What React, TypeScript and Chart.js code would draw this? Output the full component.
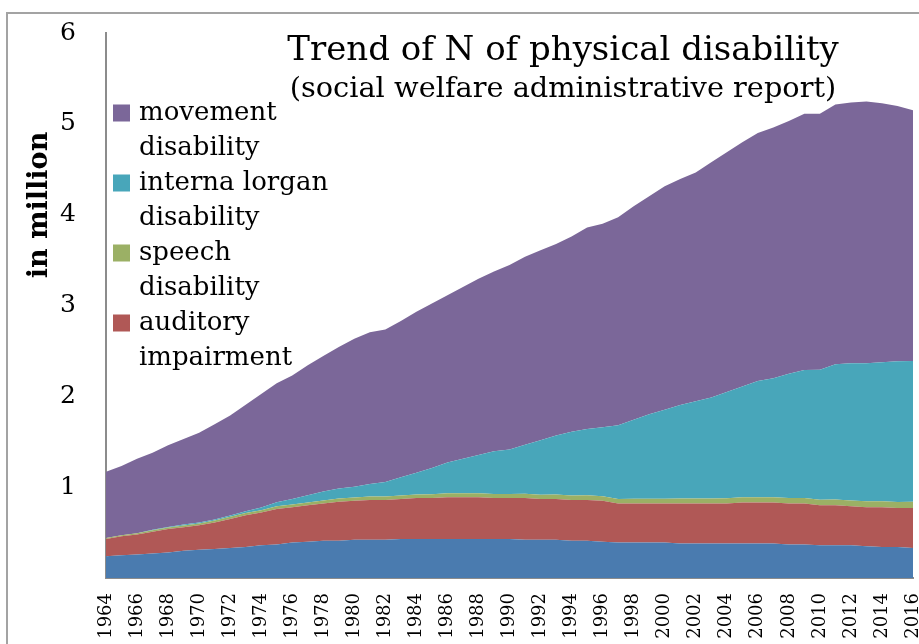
import React, { useEffect, useRef } from 'react';
import { Chart, registerables } from 'chart.js';

Chart.register(...registerables);

const YEARS = [
  '1964','1965','1966','1967','1968','1969','1970','1971','1972','1973',
  '1974','1975','1976','1977','1978','1979','1980','1981','1982','1983',
  '1984','1985','1986','1987','1988','1989','1990','1991','1992','1993',
  '1994','1995','1996','1997','1998','1999','2000','2001','2002','2003',
  '2004','2005','2006','2007','2008','2009','2010','2011','2012','2013',
  '2014','2015','2016',
];

const VISUAL = [
  0.24,0.25,0.26,0.27,0.28,0.30,0.31,0.32,0.33,0.34,
  0.36,0.37,0.39,0.40,0.41,0.41,0.42,0.42,0.42,0.43,
  0.43,0.43,0.43,0.43,0.43,0.43,0.43,0.42,0.42,0.42,
  0.41,0.41,0.40,0.39,0.39,0.39,0.39,0.38,0.38,0.38,
  0.38,0.38,0.38,0.38,0.37,0.37,0.36,0.36,0.36,0.35,
  0.34,0.34,0.33,
];

const AUDITORY = [
  0.19,0.21,0.22,0.24,0.26,0.26,0.27,0.29,0.32,0.35,
  0.36,0.39,0.39,0.40,0.41,0.43,0.43,0.44,0.44,0.44,
  0.45,0.45,0.46,0.46,0.46,0.45,0.45,0.46,0.45,0.45,
  0.45,0.45,0.45,0.43,0.43,0.43,0.43,0.44,0.44,0.44,
  0.44,0.45,0.45,0.45,0.45,0.45,0.44,0.44,0.43,0.43,
  0.44,0.43,0.44,
];

const SPEECH = [
  0.010,0.012,0.014,0.015,0.017,0.019,0.020,0.022,0.024,0.026,
  0.027,0.029,0.030,0.032,0.033,0.034,0.035,0.036,0.037,0.038,
  0.040,0.041,0.042,0.043,0.044,0.045,0.046,0.047,0.047,0.048,
  0.049,0.050,0.050,0.051,0.052,0.052,0.053,0.054,0.055,0.056,
  0.057,0.058,0.058,0.059,0.060,0.061,0.062,0.063,0.064,0.065,
  0.066,0.067,0.069,
];

const INTERNAL = [
  0,0,0,0.005,0.005,0.01,0.01,0.012,0.015,0.02,
  0.03,0.045,0.06,0.08,0.10,0.11,0.12,0.14,0.16,0.20,
  0.24,0.29,0.34,0.38,0.42,0.47,0.49,0.54,0.60,0.65,
  0.70,0.73,0.76,0.81,0.87,0.93,0.98,1.03,1.07,1.11,
  1.17,1.22,1.28,1.31,1.37,1.41,1.43,1.49,1.51,1.52,
  1.53,1.55,1.55,
];

const MOVEMENT = [
  0.73,0.76,0.82,0.85,0.90,0.94,0.99,1.05,1.10,1.17,
  1.25,1.31,1.36,1.43,1.49,1.56,1.63,1.67,1.68,1.72,
  1.77,1.81,1.84,1.89,1.94,1.98,2.03,2.07,2.09,2.11,
  2.15,2.22,2.24,2.29,2.35,2.40,2.46,2.49,2.52,2.59,
  2.64,2.69,2.73,2.76,2.78,2.82,2.82,2.86,2.87,2.88,
  2.85,2.81,2.76,
];

const SERIES_NAMES = ['visual impairment', 'auditory impairment', 'speech disability', 'interna lorgan disability', 'movement disability'];
const SERIES_COLORS = ['#4a7baf', '#b05856', '#9bb065', '#48a6ba', '#7b6799'];
// legend entries as displayed (top to bottom), each split into lines; index into series
const LEGEND_ENTRIES: { series: number; lines: string[] }[] = [
  { series: 4, lines: ['movement', 'disability'] },
  { series: 3, lines: ['interna lorgan', 'disability'] },
  { series: 2, lines: ['speech', 'disability'] },
  { series: 1, lines: ['auditory', 'impairment'] },
];
const TITLE = 'Trend of N of physical disability';
const SUBTITLE = '(social welfare administrative report)';
const Y_TITLE = 'in million';
const Y_TICKS_MAX = 6;

const FONT = "'DejaVu Serif', 'Liberation Serif', serif";

const framePlugin = {
  id: 'frame',
  beforeDraw(chart: any) {
    const ctx = chart.ctx;
    ctx.save();
    ctx.fillStyle = '#ffffff';
    ctx.fillRect(0, 0, chart.width, chart.height);
    ctx.strokeStyle = '#a3a3a3';
    ctx.lineWidth = 2;
    ctx.beginPath();
    ctx.moveTo(7, chart.height);
    ctx.lineTo(7, 13);
    ctx.lineTo(chart.width, 13);
    ctx.stroke();
    ctx.restore();
  },
};

const overlayPlugin = {
  id: 'overlay',
  afterDraw(chart: any) {
    const ctx = chart.ctx;
    ctx.save();
    ctx.fillStyle = '#000000';
    // titles
    ctx.textAlign = 'center';
    ctx.textBaseline = 'alphabetic';
    ctx.font = `34px ${FONT}`;
    ctx.fillText(TITLE, 563, 60);
    ctx.font = `28.8px ${FONT}`;
    ctx.fillText(SUBTITLE, 563, 97);
    // y title
    ctx.save();
    ctx.translate(40, 205);
    ctx.rotate(-Math.PI / 2);
    ctx.font = `bold 27px ${FONT}`;
    ctx.textBaseline = 'middle';
    ctx.fillText(Y_TITLE, 0, 0);
    ctx.restore();
    // legend
    ctx.textAlign = 'left';
    ctx.textBaseline = 'middle';
    ctx.font = `26px ${FONT}`;
    const lineH = 35;
    let y = 113;
    LEGEND_ENTRIES.forEach((entry) => {
      ctx.fillStyle = SERIES_COLORS[entry.series];
      ctx.fillRect(113, y - 8.5, 17, 17);
      ctx.fillStyle = '#000000';
      entry.lines.forEach((ln, i) => ctx.fillText(ln, 139, y + i * lineH));
      y += entry.lines.length * lineH;
    });
    ctx.restore();
  },
};

export default function App() {
  const ref = useRef<HTMLCanvasElement | null>(null);
  useEffect(() => {
    if (!ref.current) return;
    Chart.defaults.font.family = FONT;
    const values = [VISUAL, AUDITORY, SPEECH, INTERNAL, MOVEMENT];
    const chart = new Chart(ref.current, {
      type: 'line',
      data: {
        labels: YEARS,
        datasets: values.map((v, i) => ({
          label: SERIES_NAMES[i],
          data: v,
          backgroundColor: SERIES_COLORS[i],
          borderColor: SERIES_COLORS[i],
          borderWidth: 0,
          pointRadius: 0,
          tension: 0,
          fill: i === 0 ? 'origin' : '-1',
        })),
      },
      options: {
        animation: false,
        responsive: false,
        maintainAspectRatio: false,
        layout: { padding: { left: 0, top: 33, right: 6, bottom: 0 } },
        plugins: {
          legend: { display: false },
          title: { display: false },
          tooltip: { enabled: false },
        },
        scales: {
          x: {
            grid: { display: false, drawTicks: false },
            border: { display: true, color: '#8c8c8c', width: 2 },
            ticks: {
              autoSkip: false,
              minRotation: 90,
              maxRotation: 90,
              padding: 15,
              color: '#000000',
              font: { size: 18, family: FONT },
              callback: (_v: any, i: number) => (i % 2 === 0 ? YEARS[i] : ''),
            },
            afterFit: (s: any) => {
              s.height = 66;
              s.paddingLeft = 0;
              s.paddingRight = 0;
            },
          },
          y: {
            stacked: true,
            min: 0,
            max: Y_TICKS_MAX,
            grid: { display: false, drawTicks: false },
            border: { display: true, color: '#8c8c8c', width: 2 },
            ticks: {
              stepSize: 1,
              padding: 30,
              color: '#000000',
              font: { size: 25, family: FONT },
              callback: (v: any) => (v === 0 ? '' : String(v)),
            },
            afterFit: (s: any) => {
              s.width = 106;
              s.paddingTop = 0;
              s.paddingBottom = 0;
            },
          },
        },
      },
      plugins: [framePlugin, overlayPlugin],
    });
    return () => chart.destroy();
  }, []);
  return (
    <div style={{ position: 'absolute', left: 0, top: 0, width: 919, height: 644 }}>
      <canvas ref={ref} width={919} height={644} />
    </div>
  );
}
